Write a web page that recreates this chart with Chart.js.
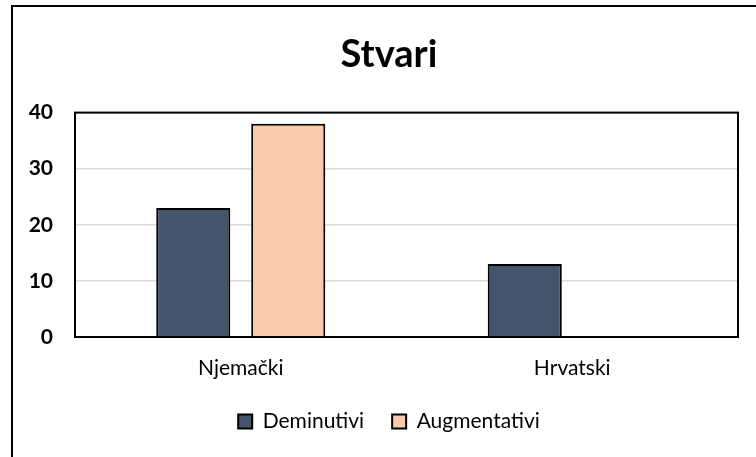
<!DOCTYPE html>
<html>
<head>
<meta charset="utf-8">
<script src="https://cdn.jsdelivr.net/npm/chart.js@4"></script>
<style>
  html, body { margin: 0; padding: 0; overflow: hidden; background: #fff; }
  #frame {
    position: absolute; left: 11px; top: 5px;
    width: 760px; height: 460px;
    border-top: 2px solid #000; border-left: 2px solid #000;
  }
  #wrap { position: absolute; left: 0; top: 0; width: 751px; height: 450px; }
</style>
</head>
<body>
<div id="frame"><div id="wrap"><canvas id="chart"></canvas></div></div>
<script>
"use strict";

// data
const categories = ['Njemački', 'Hrvatski'];
const deminutivi = [23, 13];
const augmentativi = [38, 0];
const yTicks = [0, 10, 20, 30, 40];

const FONT = 'Lato, "Open Sans", sans-serif';

// outline round the plot area, like the Excel plot border
const plotBox = {
  id: 'plotBox',
  afterLayout(chart) {
    // let the y labels spill left of the narrowed axis box without being clipped
    chart.scales.y.left = 0;
  },
  afterDatasetsDraw(chart) {
    const a = chart.chartArea;
    const ctx = chart.ctx;
    ctx.save();
    ctx.strokeStyle = '#000';
    ctx.lineWidth = 2;
    ctx.strokeRect(a.left, a.top, a.right - a.left, a.bottom - a.top);
    ctx.restore();
  }
};

new Chart(document.getElementById('chart'), {
  type: 'bar',
  data: {
    labels: categories,
    datasets: [
      {
        label: 'Deminutivi',
        data: deminutivi,
        backgroundColor: '#44546A',
        borderColor: '#000',
        borderWidth: 2,
        barPercentage: 0.78,
        categoryPercentage: 0.573
      },
      {
        label: 'Augmentativi',
        data: augmentativi,
        backgroundColor: '#F8CBAD',
        borderColor: '#000',
        borderWidth: 2,
        barPercentage: 0.78,
        categoryPercentage: 0.573
      }
    ]
  },
  options: {
    responsive: true,
    maintainAspectRatio: false,
    animation: false,
    layout: { padding: { left: 27, right: 26, top: 0, bottom: 15 } },
    plugins: {
      title: {
        display: true,
        text: 'Stvari',
        color: '#000',
        font: { family: FONT, size: 38, weight: 'bold' },
        padding: { top: 25, bottom: 35 }
      },
      legend: {
        position: 'bottom',
        labels: {
          color: '#000',
          font: { family: FONT, size: 21 },
          boxWidth: 14,
          boxHeight: 14,
          padding: 28
        }
      },
      tooltip: { enabled: false }
    },
    scales: {
      x: {
        grid: { display: false },
        border: { display: false },
        afterFit: axis => { axis.height = 46; },
        ticks: {
          color: '#000',
          padding: 11,
          font: { family: FONT, size: 21 }
        }
      },
      y: {
        min: yTicks[0],
        max: yTicks[yTicks.length - 1],
        afterBuildTicks: axis => { axis.ticks = yTicks.map(v => ({ value: v })); },
        afterFit: axis => { axis.width = 35; },
        grid: { color: '#d9d9d9', lineWidth: 1.5, drawTicks: false },
        border: { display: false },
        ticks: {
          color: '#000',
          padding: 22,
          font: { family: FONT, size: 21, weight: 'bold' }
        }
      }
    }
  },
  plugins: [plotBox]
});
</script>
</body>
</html>
